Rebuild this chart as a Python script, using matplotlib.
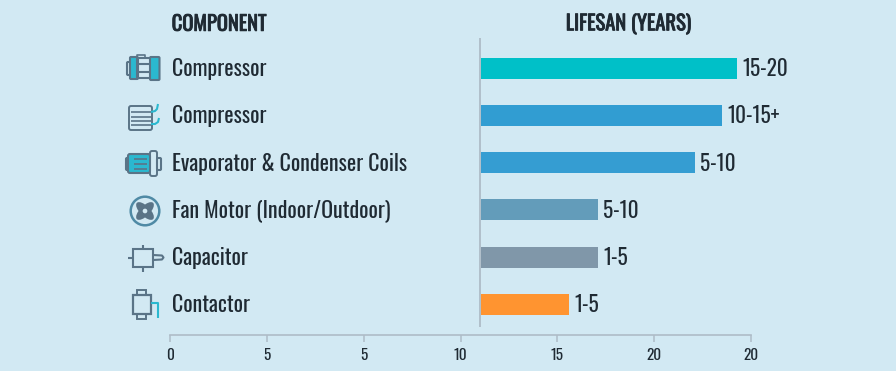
import matplotlib
matplotlib.use('Agg')
import matplotlib.pyplot as plt
import matplotlib.patheffects as pe
from matplotlib.patches import Circle, Ellipse, FancyBboxPatch, Rectangle

# chart data, bars
components = ['Compressor', 'Compressor', 'Evaporator & Condenser Coils',
              'Fan Motor (Indoor/Outdoor)', 'Capacitor', 'Contactor']
bar_start = 16.05
bar_ends = [29.3, 28.5, 27.1, 22.1, 22.1, 20.6]
bar_labels = ['15-20', '10-15+', '5-10', '5-10', '1-5', '1-5']
bar_colors = ['#00c0c8', '#319dd2', '#359dd2', '#639cba', '#8097a9', '#ff9430']
tick_pos = [0, 5, 10, 15, 20, 25, 30]
tick_labels = ['0', '5', '5', '10', '15', '20', '20']

BG = '#d2e9f3'
INK = '#1f2a33'
AXIS = '#aebcc7'
SLATE = '#5a7487'
TEAL = '#2bb8cf'
FONT = ['Oswald', 'Roboto Condensed', 'Liberation Sans Narrow', 'Roboto', 'DejaVu Sans']
W, H = 896, 371

plt.rcParams['font.family'] = FONT

fig = plt.figure(figsize=(W / 100, H / 100), dpi=100)
fig.patch.set_facecolor(BG)

# main axes: x 170..751 px, y 21..335 px
ax = fig.add_axes([170 / W, 1 - 335 / H, 581 / W, (335 - 21) / H])
ax.set_facecolor('none')
ax.set_xlim(0, 30)
ax.set_ylim(5.65, -1.0)
for side in ['top', 'right', 'left']:
    ax.spines[side].set_visible(False)
ax.spines['bottom'].set_color(AXIS)
ax.spines['bottom'].set_linewidth(1.2)
ax.set_yticks([])
ax.set_xticks(tick_pos)
ax.set_xticklabels(tick_labels, fontsize=11, color=INK)
ax.tick_params(axis='x', color=AXIS, width=1.1, length=5, pad=4.5)

ypos = list(range(len(components)))
ax.barh(ypos, [e - bar_start for e in bar_ends], left=bar_start, height=0.445, color=bar_colors)
ax.vlines(bar_start - 0.05, -0.64, 5.47, color=AXIS, linewidth=1.3)

for y, end, lab, name in zip(ypos, bar_ends, bar_labels, components):
    ax.text(end + 0.27, y + 0.02, lab, va='center', ha='left', fontsize=15.4, color=INK)
    ax.text(0.09, y + 0.02, name, va='center', ha='left', fontsize=15.8, color=INK)

# the oswald file has no bold cut, so thicken the headers with a thin stroke
heavy = [pe.withStroke(linewidth=0.6, foreground=INK)]
ax.text(0.09, -0.94, 'COMPONENT', va='center', ha='left', fontsize=14.8, color=INK, path_effects=heavy)
ax.text(23.67, -0.94, 'LIFESAN (YEARS)', va='center', ha='center', fontsize=14.8, color=INK, path_effects=heavy)

# icon layer in pixel coordinates
ic = fig.add_axes([0, 0, 1, 1])
ic.set_xlim(0, W)
ic.set_ylim(H, 0)
ic.axis('off')
ic.patch.set_alpha(0)


def box(x0, y0, x1, y1, fc='none', ec=SLATE, lw=1.5, r=1.0):
    ic.add_patch(FancyBboxPatch((x0 + r, y0 + r), x1 - x0 - 2 * r, y1 - y0 - 2 * r,
                                boxstyle=f'round,pad={r}', fc=fc, ec=ec, lw=lw))


def line(xs, ys, color=SLATE, lw=1.5):
    ic.plot(xs, ys, color=color, lw=lw, solid_capstyle='butt')


# compressor
box(127, 62, 131, 75)
box(130, 57, 138, 79, fc=TEAL)
box(137, 58, 151, 78)
line([137, 151], [64, 64])
line([137, 151], [72, 72])
line([137, 137, 145, 145], [58, 55, 55, 58], lw=1.2)
box(150, 57, 159.5, 80, fc=TEAL)

# coil
box(129, 106, 152, 130, lw=1.4, r=2)
for yy in [112, 116.5, 121, 125]:
    line([131, 151], [yy, yy], lw=1.2)
line([151, 155, 157, 158], [112, 111, 109, 104], color=TEAL)
line([151, 155, 158, 159], [124, 124, 122, 118], color=TEAL)

# evaporator
box(126, 158, 130, 170)
box(128, 154, 150, 173, fc=TEAL, r=2)
for yy in [159, 164, 168.5]:
    line([134, 147], [yy, yy], lw=1.2)
box(150, 151, 157, 176, lw=1.4, r=2)
box(157, 158, 161, 170)

# fan
ic.add_patch(Circle((145, 211), 14.3, fc='none', ec='#4f8aa5', lw=1.8))
for ang in [45, 135]:
    ic.add_patch(Ellipse((145, 211), 23, 10, angle=ang, fc=SLATE, ec='none'))
ic.add_patch(Circle((145, 211), 3.4, fc=BG, ec=SLATE, lw=1.5))

# capacitor
ic.add_patch(Rectangle((133, 249), 20, 18, fc='none', ec=SLATE, lw=1.5))
line([142.5, 142.5], [244.5, 249])
line([142.5, 142.5], [267, 271.5])
line([128, 133], [258, 258])
line([153, 162, 163.5, 162, 153], [255, 255.5, 257.5, 259.5, 260])

# contactor
ic.add_patch(Rectangle((133, 295), 18, 19, fc='none', ec=SLATE, lw=1.6))
ic.add_patch(Rectangle((137, 289.5), 9, 5.5, fc='none', ec=SLATE, lw=1.4))
ic.add_patch(Rectangle((137, 314), 9, 5, fc='none', ec=SLATE, lw=1.4))
line([151, 158, 158], [303, 303, 318], color=TEAL)

fig.savefig('out.png', dpi=100, facecolor=BG)
